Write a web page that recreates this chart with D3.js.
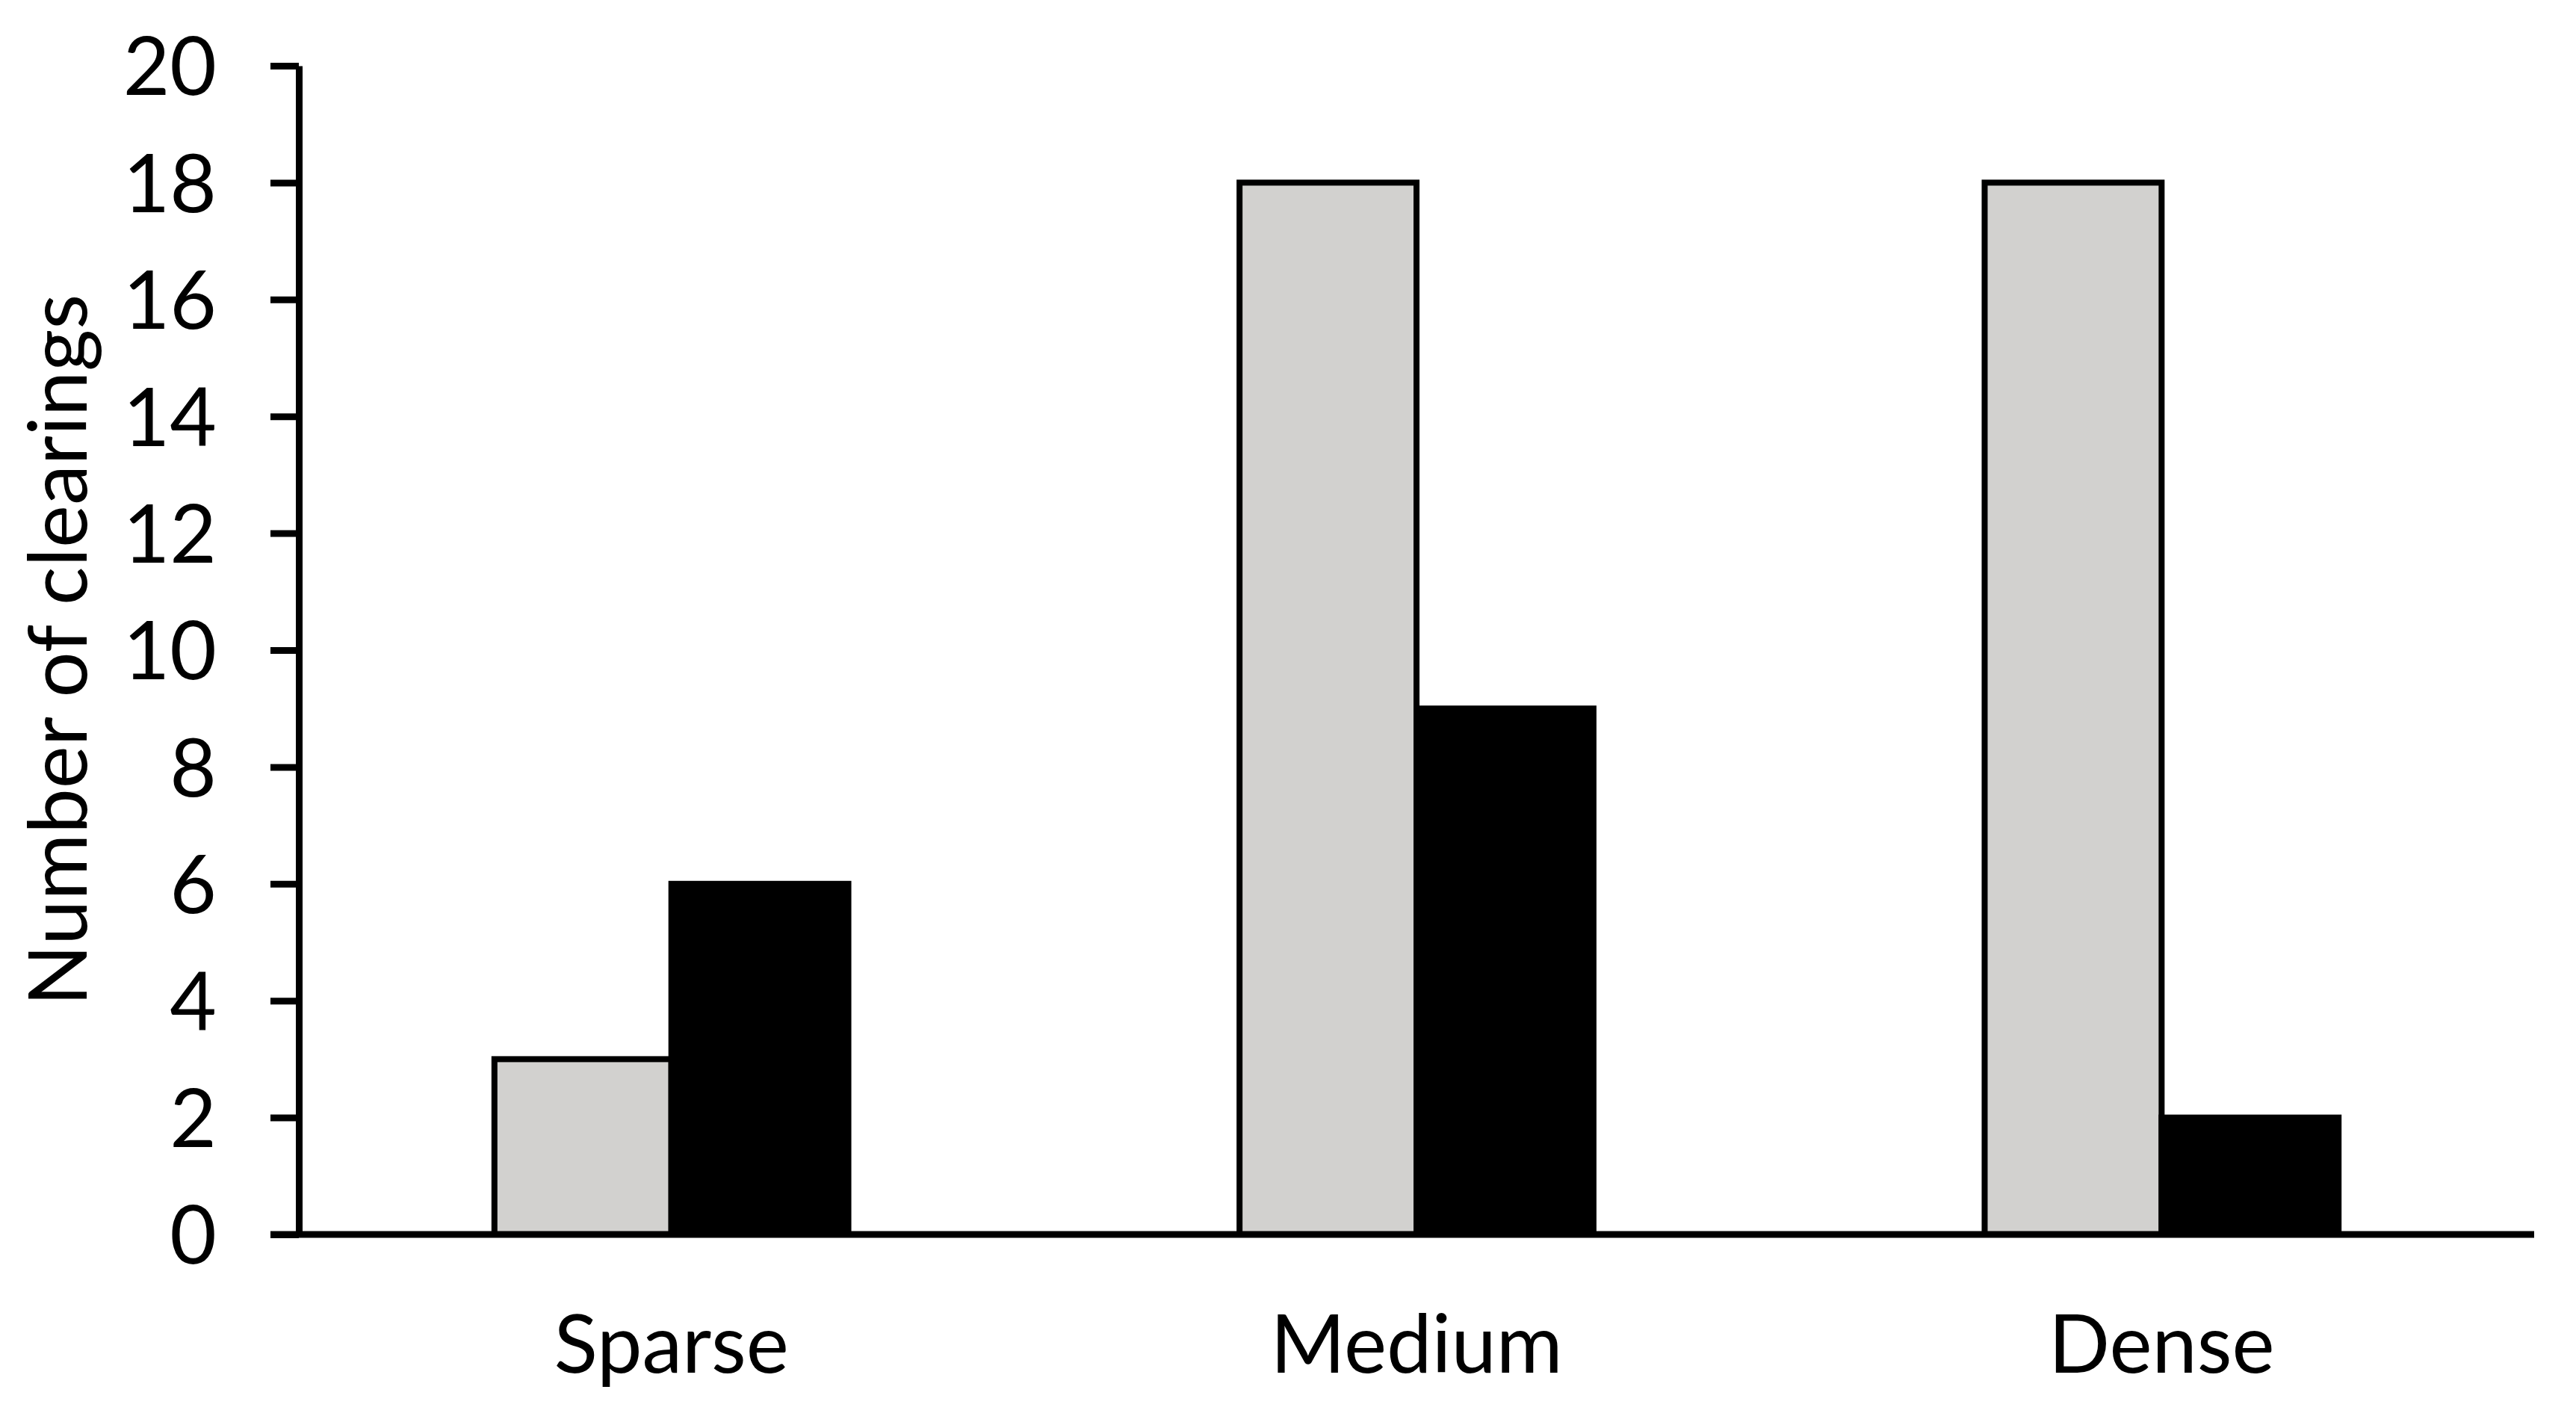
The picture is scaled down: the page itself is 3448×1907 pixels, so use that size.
<!DOCTYPE html>
<html>
<head>
<meta charset="utf-8">
<script src="https://cdn.jsdelivr.net/npm/d3@7"></script>
<style>
  body { margin: 0; background: #fff; }
  text { font-family: Lato, "Open Sans", sans-serif; fill: #000; }
</style>
</head>
<body>
<div class="chart"></div>
<script>
// Data
var categories = ["Sparse", "Medium", "Dense"];
var seriesNames = ["grey", "black"];
var greyValues = [3, 18, 18];
var blackValues = [6, 9, 2];
var yTicks = [0, 2, 4, 6, 8, 10, 12, 14, 16, 18, 20];

var svgWidth = 3448;
var svgHeight = 1907;

var margin = { top: 88, right: 56, bottom: 255, left: 400 };
var width = svgWidth - margin.left - margin.right;
var height = svgHeight - margin.top - margin.bottom;
var fontSize = 108;

var svg = d3.select(".chart")
  .append("svg")
  .attr("width", svgWidth)
  .attr("height", svgHeight);

var chartGroup = svg.append("g")
  .attr("transform", `translate(${margin.left}, ${margin.top})`);

var rows = categories.map(function (c, i) {
  return { category: c, grey: greyValues[i], black: blackValues[i] };
});

// scales
var x0 = d3.scaleBand()
  .domain(categories)
  .range([0, width])
  .paddingInner(0.525)
  .paddingOuter(0.2625);

var x1 = d3.scaleBand()
  .domain(seriesNames)
  .range([0, x0.bandwidth()]);

var yLinearScale = d3.scaleLinear()
  .domain([0, 20])
  .range([height, 0]);

var colors = { grey: "#d2d1cf", black: "#000000" };

// bars
var groups = chartGroup.selectAll(".group")
  .data(rows)
  .enter()
  .append("g")
  .attr("transform", d => `translate(${x0(d.category)}, 0)`);

seriesNames.forEach(function (s) {
  groups.append("rect")
    .attr("x", x1(s))
    .attr("y", d => yLinearScale(d[s]))
    .attr("width", x1.bandwidth())
    .attr("height", d => yLinearScale(0) - yLinearScale(d[s]))
    .attr("fill", colors[s])
    .attr("stroke", "#000")
    .attr("stroke-width", 8);
});

// y axis
var leftAxis = d3.axisLeft(yLinearScale)
  .tickValues(yTicks)
  .tickSizeInner(38)
  .tickSizeOuter(0)
  .tickPadding(72);

var yAxis = chartGroup.append("g").call(leftAxis);
yAxis.select(".domain").attr("stroke-width", 9);
yAxis.selectAll(".tick line").attr("stroke-width", 9);
yAxis.selectAll("text")
  .attr("font-size", fontSize)
  .attr("font-family", "Lato, 'Open Sans', sans-serif")
  .attr("dy", "0.36em");

// x axis
var bottomAxis = d3.axisBottom(x0)
  .tickSize(0)
  .tickPadding(108);

var xAxis = chartGroup.append("g")
  .attr("transform", `translate(0, ${height})`)
  .call(bottomAxis);
xAxis.select(".domain").remove();
xAxis.selectAll("text")
  .attr("font-size", fontSize)
  .attr("font-family", "Lato, 'Open Sans', sans-serif");

xAxis.append("line")
  .attr("x1", -38)
  .attr("x2", width)
  .attr("y1", 0)
  .attr("y2", 0)
  .attr("stroke", "#000")
  .attr("stroke-width", 9);

// axis label
chartGroup.append("text")
  .attr("transform", "rotate(-90)")
  .attr("x", 0 - height / 2)
  .attr("y", 116 - margin.left)
  .attr("text-anchor", "middle")
  .attr("font-size", fontSize)
  .text("Number of clearings");
</script>
</body>
</html>
